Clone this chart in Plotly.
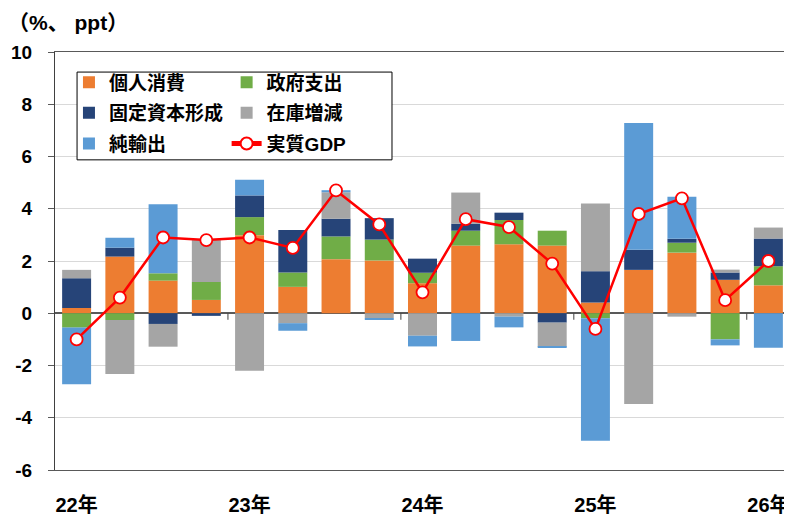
import plotly.graph_objects as go

quarters = ["22Q1", "22Q2", "22Q3", "22Q4", "23Q1", "23Q2", "23Q3", "23Q4",
            "24Q1", "24Q2", "24Q3", "24Q4", "25Q1", "25Q2", "25Q3", "25Q4", "26Q1"]
consumption = [0.20, 2.17, 1.25, 0.51, 2.99, 1.01, 2.07, 2.02, 1.15, 2.59, 2.64, 2.59, 0.41, 1.66, 2.32, 1.28, 1.07]
government = [-0.55, -0.26, 0.28, 0.69, 0.69, 0.55, 0.87, 0.80, 0.40, 0.57, 0.93, 0.57, -0.19, 0.00, 0.38, -1.00, 0.73]
investment = [1.14, 0.34, -0.41, -0.10, 0.83, 1.63, 0.68, 0.82, 0.54, 0.27, 0.28, -0.36, 1.20, 0.77, 0.15, 0.28, 1.06]
inventory = [0.32, -2.07, -0.87, 1.61, -2.20, -0.38, 1.01, -0.19, -0.86, 1.19, -0.13, -0.92, 2.59, -3.47, -0.13, 0.11, 0.42]
net_exports = [-2.17, 0.38, 2.64, 0.00, 0.60, -0.29, 0.08, -0.05, -0.41, -1.06, -0.41, -0.05, -4.69, 4.85, 1.61, -0.23, -1.32]
real_gdp = [-1.0, 0.6, 2.9, 2.8, 2.9, 2.5, 4.7, 3.4, 0.8, 3.6, 3.3, 1.9, -0.6, 3.8, 4.4, 0.5, 2.0]
year_tick_pos = [0, 4, 8, 12, 16]
year_labels = ["22年", "23年", "24年", "25年", "26年"]
year_bounds = [3.5, 7.5, 11.5, 15.5]
y_tick_vals = [-6, -4, -2, 0, 2, 4, 6, 8, 10]
y_tick_labels = ["-6", "-4", "-2", "0", "2", "4", "6", "8", "10"]

FONT = "Arial, 'Liberation Sans', 'Noto Sans CJK JP', sans-serif"
x = list(range(len(quarters)))

# page body has an 8px margin, so the figure is sized/offset to compensate
W, H = 784, 507

fig = go.Figure()
series = [
    ("個人消費", consumption, "#ED7D31", "legend", 1),
    ("政府支出", government, "#70AD47", "legend2", 1),
    ("固定資本形成", investment, "#264478", "legend", 2),
    ("在庫増減", inventory, "#A5A5A5", "legend2", 2),
    ("純輸出", net_exports, "#5B9BD5", "legend", 3),
]
for name, vals, col, lg, rank in series:
    fig.add_trace(go.Bar(x=x, y=vals, name=name, marker=dict(color=col, line=dict(width=0)),
                         legend=lg, legendrank=rank, legendgroup=name))
fig.add_trace(go.Scatter(x=x, y=real_gdp, name="実質GDP", mode="lines+markers",
                         line=dict(color="#FF0000", width=2.5),
                         marker=dict(size=12, color="white", line=dict(color="#FF0000", width=1.8)),
                         legend="legend2", legendrank=3, legendgroup="gdp"))

shapes = []
for b in year_bounds:
    shapes.append(dict(type="line", xref="x", yref="y", x0=b, x1=b, y0=0, y1=-0.25,
                       line=dict(color="#404040", width=1)))
shapes.append(dict(type="rect", xref="paper", yref="paper", x0=0.030, x1=0.4585, y0=0.742, y1=0.952,
                   line=dict(color="#000000", width=1), fillcolor="white", layer="above"))

legend_common = dict(font=dict(family=FONT, size=19, color="black", weight="bold"),
                     bgcolor="rgba(0,0,0,0)", borderwidth=0, orientation="v",
                     xanchor="left", yanchor="top", tracegroupgap=3, itemsizing="constant")

fig.update_layout(
    width=W, height=H,
    margin=dict(l=47, r=2, t=44, b=45, autoexpand=False),
    barmode="relative", bargap=0.33,
    plot_bgcolor="white", paper_bgcolor="white",
    font=dict(family=FONT, color="black"),
    shapes=shapes,
    legend=dict(x=0.019, y=0.973, **legend_common),
    legend2=dict(x=0.2335, y=0.973, **legend_common),
    title=dict(text="（%、 ppt）", xref="container", yref="container", x=0.0, y=1 - 15 / H,
               xanchor="left", yanchor="middle",
               font=dict(family=FONT, size=21, color="black", weight="bold")),
)
fig.update_xaxes(range=[-0.5, 16.5], tickvals=year_tick_pos, ticktext=year_labels, ticks="",
                 tickfont=dict(family=FONT, size=20, color="black", weight="bold"),
                 ticklabelstandoff=17, showgrid=False, zeroline=False, automargin=False,
                 showline=True, linecolor="#595959", linewidth=1, mirror=True)
fig.update_yaxes(range=[-6, 10], tickvals=y_tick_vals, ticktext=y_tick_labels,
                 ticks="outside", ticklen=6, tickcolor="#595959",
                 tickfont=dict(family=FONT, size=19, color="black", weight="bold"),
                 ticklabelstandoff=12, automargin=False,
                 showgrid=True, gridcolor="#D9D9D9", gridwidth=1,
                 zeroline=True, zerolinecolor="#595959", zerolinewidth=1.5,
                 showline=True, linecolor="#404040", linewidth=1, mirror=True)

fig.write_html("out.html")
